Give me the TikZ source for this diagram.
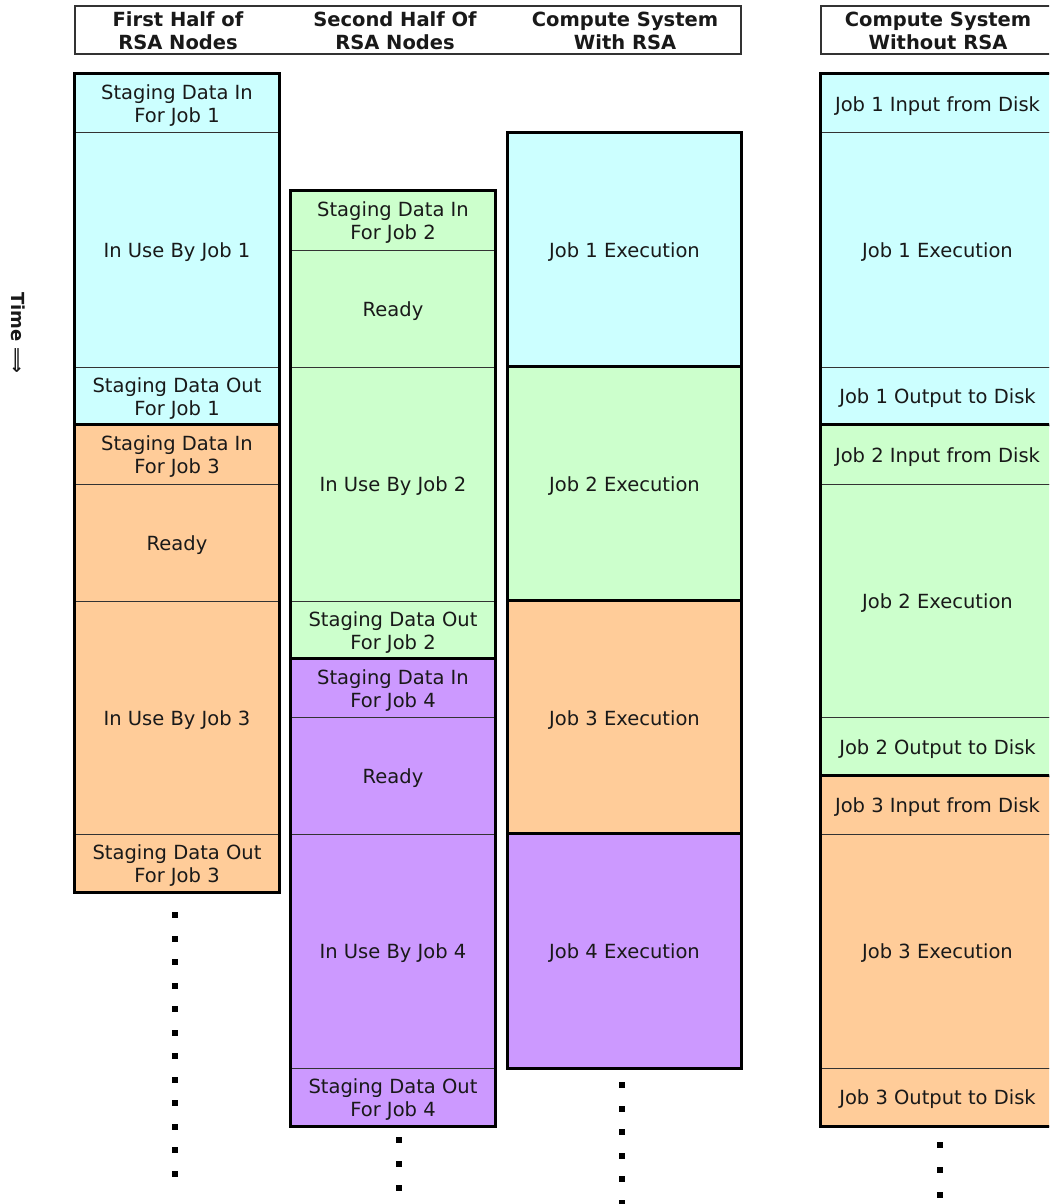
\documentclass[tikz,border=0pt]{standalone}
\usepackage{fontspec}
\setmainfont{DejaVu Sans}
\begin{document}
\begin{tikzpicture}[x=1pt,y=-1pt,
  every node/.style={font=\fontsize{19.5}{23}\selectfont, text=black!90, align=center, inner sep=0pt},
  cell/.style={draw=black!80, line width=1pt, rectangle},
  grp/.style={draw=black, line width=3.2pt},
  hdr/.style={draw=black!80, line width=1.1pt},
  htext/.style={font=\fontsize{19.5}{23}\selectfont\bfseries},
  dot/.style={fill=black}]
\useasboundingbox (0,0) rectangle (1049,1204);
\clip (0,0) rectangle (1049,1204);
\definecolor{jobA}{HTML}{CCFFFF}
\definecolor{jobB}{HTML}{CCFFCC}
\definecolor{jobC}{HTML}{FFCC99}
\definecolor{jobD}{HTML}{CC99FF}
% one cell: name, x1, y1, x2, y2, colour, text
\newcommand\blk[7]{\node[cell,fill=#6,minimum width={#4-#2},minimum height={#5-#3},
  label={[yshift=-2.5pt]center:#7}] (#1) at ({(#2+#4)/2},{(#3+#5)/2}) {};}

% headers
\draw[hdr] (75,6) rectangle (741,54);
\draw[hdr] (821,6) rectangle (1060,54);
\node[htext] (h1) at (178,31) {First Half of\\RSA Nodes};
\node[htext] (h2) at (395,31) {Second Half Of\\RSA Nodes};
\node[htext] (h3) at (625,31) {Compute System\\With RSA};
\node[htext] (h4) at (938,31) {Compute System\\Without RSA};

% time axis label
\node[font=\fontsize{18}{22}\selectfont\bfseries, rotate=-90] (time) at (18,333) {Time ⟹};

% first half of RSA nodes
\blk{a1}{75}{74}{279}{133}{jobA}{Staging Data In\\For Job 1}
\blk{a2}{75}{133}{279}{367}{jobA}{In Use By Job 1}
\blk{a3}{75}{367}{279}{425}{jobA}{Staging Data Out\\For Job 1}
\draw[grp] (a1.north west) rectangle (a3.south east);
\blk{a4}{75}{425}{279}{484}{jobC}{Staging Data In\\For Job 3}
\blk{a5}{75}{484}{279}{601}{jobC}{Ready}
\blk{a6}{75}{601}{279}{834}{jobC}{In Use By Job 3}
\blk{a7}{75}{834}{279}{892}{jobC}{Staging Data Out\\For Job 3}
\draw[grp] (a4.north west) rectangle (a7.south east);

% second half of RSA nodes
\blk{b1}{291}{191}{495}{250}{jobB}{Staging Data In\\For Job 2}
\blk{b2}{291}{250}{495}{367}{jobB}{Ready}
\blk{b3}{291}{367}{495}{601}{jobB}{In Use By Job 2}
\blk{b4}{291}{601}{495}{659}{jobB}{Staging Data Out\\For Job 2}
\draw[grp] (b1.north west) rectangle (b4.south east);
\blk{b5}{291}{659}{495}{717}{jobD}{Staging Data In\\For Job 4}
\blk{b6}{291}{717}{495}{834}{jobD}{Ready}
\blk{b7}{291}{834}{495}{1068}{jobD}{In Use By Job 4}
\blk{b8}{291}{1068}{495}{1126}{jobD}{Staging Data Out\\For Job 4}
\draw[grp] (b5.north west) rectangle (b8.south east);

% compute system with RSA
\blk{c1}{508}{133}{741}{367}{jobA}{Job 1 Execution}
\draw[grp] (c1.north west) rectangle (c1.south east);
\blk{c2}{508}{367}{741}{601}{jobB}{Job 2 Execution}
\draw[grp] (c2.north west) rectangle (c2.south east);
\blk{c3}{508}{601}{741}{834}{jobC}{Job 3 Execution}
\draw[grp] (c3.north west) rectangle (c3.south east);
\blk{c4}{508}{834}{741}{1068}{jobD}{Job 4 Execution}
\draw[grp] (c4.north west) rectangle (c4.south east);

% compute system without RSA
\blk{d1}{821}{74}{1054}{133}{jobA}{Job 1 Input from Disk}
\blk{d2}{821}{133}{1054}{367}{jobA}{Job 1 Execution}
\blk{d3}{821}{367}{1054}{425}{jobA}{Job 1 Output to Disk}
\draw[grp] (d1.north west) rectangle (d3.south east);
\blk{d4}{821}{425}{1054}{484}{jobB}{Job 2 Input from Disk}
\blk{d5}{821}{484}{1054}{717}{jobB}{Job 2 Execution}
\blk{d6}{821}{717}{1054}{776}{jobB}{Job 2 Output to Disk}
\draw[grp] (d4.north west) rectangle (d6.south east);
\blk{d7}{821}{776}{1054}{834}{jobC}{Job 3 Input from Disk}
\blk{d8}{821}{834}{1054}{1068}{jobC}{Job 3 Execution}
\blk{d9}{821}{1068}{1054}{1126}{jobC}{Job 3 Output to Disk}
\draw[grp] (d7.north west) rectangle (d9.south east);

% continuation dots
\foreach \y in {915,938.5,...,1185} \fill[dot] (172,\y-3) rectangle (178,\y+3);
\foreach \y in {1140,1164,1188} \fill[dot] (396,\y-3) rectangle (402,\y+3);
\foreach \y in {1085,1108.5,...,1210} \fill[dot] (619,\y-3) rectangle (625,\y+3);
\foreach \y in {1145,1170,1195} \fill[dot] (937,\y-3) rectangle (943,\y+3);
\end{tikzpicture}
\end{document}
